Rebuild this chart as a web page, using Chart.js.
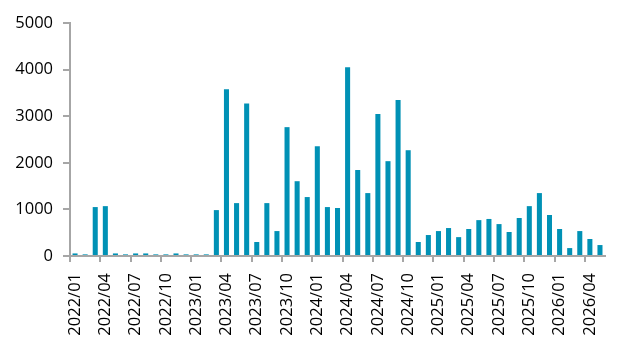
<!DOCTYPE html>
<html>
<head>
<meta charset="utf-8">
<script src="https://cdn.jsdelivr.net/npm/chart.js@4/dist/chart.umd.min.js"></script>
<style>
html,body{margin:0;padding:0;background:#fff;}
#wrap{width:631px;height:347px;position:relative;}
</style>
</head>
<body>
<div id="wrap"><canvas id="c" width="631" height="347"></canvas></div>
<script>
const categories = [
  "2022/01","2022/02","2022/03","2022/04","2022/05","2022/06","2022/07","2022/08","2022/09","2022/10","2022/11","2022/12",
  "2023/01","2023/02","2023/03","2023/04","2023/05","2023/06","2023/07","2023/08","2023/09","2023/10","2023/11","2023/12",
  "2024/01","2024/02","2024/03","2024/04","2024/05","2024/06","2024/07","2024/08","2024/09","2024/10","2024/11","2024/12",
  "2025/01","2025/02","2025/03","2025/04","2025/05","2025/06","2025/07","2025/08","2025/09","2025/10","2025/11","2025/12",
  "2026/01","2026/02","2026/03","2026/04","2026/05"
];
const values = [
  55, 35, 1050, 1070, 55, 35, 55, 55, 35, 35, 55, 35,
  35, 35, 985, 3580, 1135, 3270, 300, 1135, 535, 2765, 1605, 1265,
  2355, 1050, 1030, 4050, 1845, 1350, 3045, 2035, 3345, 2270, 300, 450,
  535, 600, 405, 580, 770, 795, 685, 515, 815, 1070, 1350, 880,
  580, 170, 535, 365, 235
];
const yTicks = [0, 1000, 2000, 3000, 4000, 5000];

const AXIS = '#a6a6a6';
const FONT = {family: '"Open Sans", sans-serif', size: 16.5};

new Chart(document.getElementById('c'), {
  type: 'bar',
  data: {
    labels: categories,
    datasets: [{
      data: values,
      backgroundColor: '#0091b5',
      borderWidth: 0,
      barPercentage: 0.5,
      categoryPercentage: 1.0
    }]
  },
  options: {
    responsive: false,
    animation: false,
    events: [],
    layout: {padding: {top: 23, right: 24, left: 0, bottom: 0}},
    plugins: {legend: {display: false}, tooltip: {enabled: false}},
    scales: {
      x: {
        offset: true,
        grid: {
          offset: true,
          drawOnChartArea: false,
          tickLength: 6,
          lineWidth: 2,
          color: (ctx) => (ctx.index % 3 === 0 ? AXIS : 'rgba(0,0,0,0)')
        },
        border: {color: AXIS, width: 2},
        ticks: {
          autoSkip: false,
          maxRotation: 90,
          minRotation: 90,
          padding: 11,
          color: '#000',
          font: FONT,
          callback: function(v, i) { return i % 3 === 0 ? categories[i] : ''; }
        },
        afterFit: (s) => { s.height = 91; }
      },
      y: {
        min: 0,
        max: 5000,
        afterBuildTicks: (s) => { s.ticks = yTicks.map(v => ({value: v})); },
        grid: {
          drawOnChartArea: false,
          tickLength: 7,
          lineWidth: 2,
          color: AXIS
        },
        border: {color: AXIS, width: 2},
        ticks: {
          padding: 10,
          color: '#000',
          font: FONT,
          callback: (v) => String(v)
        },
        afterFit: (s) => { s.width = 70; }
      }
    }
  }
});
</script>
</body>
</html>
